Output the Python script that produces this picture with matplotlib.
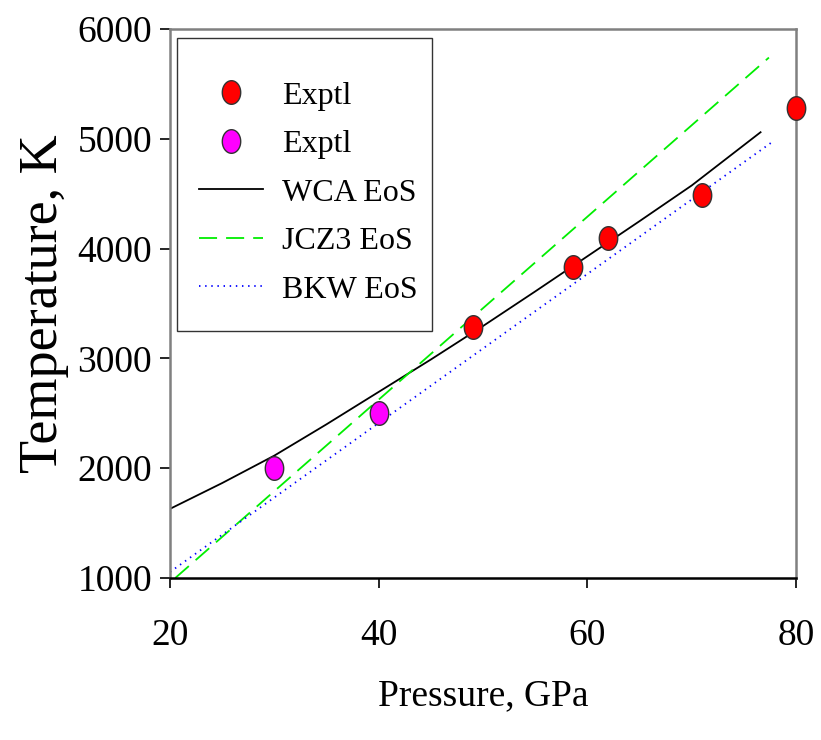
import numpy as np
import matplotlib
matplotlib.use("Agg")
import matplotlib.pyplot as plt
from matplotlib.path import Path
from matplotlib.patches import Rectangle

plt.rcParams['font.family'] = ['Liberation Serif', 'DejaVu Serif']

# experimental points
p_red = [49, 58.6, 62, 71, 80]
t_red = [3285, 3830, 4095, 4485, 5285]
p_mag = [30, 40]
t_mag = [2000, 2505]

# model curves
p_wca = [20, 25, 30, 35, 40, 45, 50, 55, 60, 65, 70, 76.6]
t_wca = [1630, 1865, 2115, 2400, 2695, 2990, 3295, 3610, 3930, 4250, 4575, 5060]
p_jcz = [20.5, 77.4]
t_jcz = [1000, 5740]
p_bkw = [20, 77.7]
t_bkw = [1055, 4970]

xticks = [20, 40, 60, 80]
yticks = [1000, 2000, 3000, 4000, 5000, 6000]

# elliptic marker (taller than wide)
th = np.linspace(0, 2 * np.pi, 60)
ell = Path(np.column_stack([0.78 * np.cos(th), np.sin(th)]), closed=True)

fig = plt.figure(figsize=(8.21, 7.40), dpi=100)
ax = fig.add_axes([0.2071, 0.2189, 0.9696 - 0.2071, 0.9608 - 0.2189])

ax.plot(p_red, t_red, ls='none', marker=ell, ms=17, mfc='#ff0000', mec='#333333',
        mew=1, label='Exptl', clip_on=False, zorder=5)
ax.plot(p_mag, t_mag, ls='none', marker=ell, ms=17, mfc='#ff00ff', mec='#333333',
        mew=1, label='Exptl', zorder=5)
ax.plot(p_wca, t_wca, color='black', lw=1.3, label='WCA EoS')
ax.plot(p_jcz, t_jcz, color='#00ee00', lw=1.3, dashes=(10, 5), label='JCZ3 EoS')
ax.plot(p_bkw, t_bkw, color='blue', lw=1.3, dashes=(0.8, 2.6), label='BKW EoS')

ax.set_xlim(20, 80)
ax.set_ylim(1000, 6000)
ax.set_xticks(xticks)
ax.set_yticks(yticks)
ax.tick_params(axis='x', direction='out', length=7, width=1.2, pad=22, labelsize=27)
ax.tick_params(axis='y', direction='out', length=7, width=1.2, pad=6, labelsize=27)

for s in ['top', 'right', 'left']:
    ax.spines[s].set_color('#808080')
    ax.spines[s].set_linewidth(1.8)
ax.spines['bottom'].set_color('black')
ax.spines['bottom'].set_linewidth(1.8)

ax.set_xlabel('Pressure, GPa', fontsize=27, labelpad=19)
ax.set_ylabel('Temperature, K', fontsize=39, labelpad=6)

# legend frame drawn as its own box
box = Rectangle((0.011, 0.45), 0.4073, 0.5336, transform=ax.transAxes,
                facecolor='white', edgecolor='#333333', lw=1.0, zorder=6)
ax.add_patch(box)

leg = ax.legend(loc='upper left', bbox_to_anchor=(0.0463, 0.905), fontsize=23,
                frameon=False, borderpad=0, labelspacing=0.6, handlelength=2.0,
                handletextpad=0.6, borderaxespad=0)
leg.set_zorder(7)

fig.savefig('out.png', dpi=100)
